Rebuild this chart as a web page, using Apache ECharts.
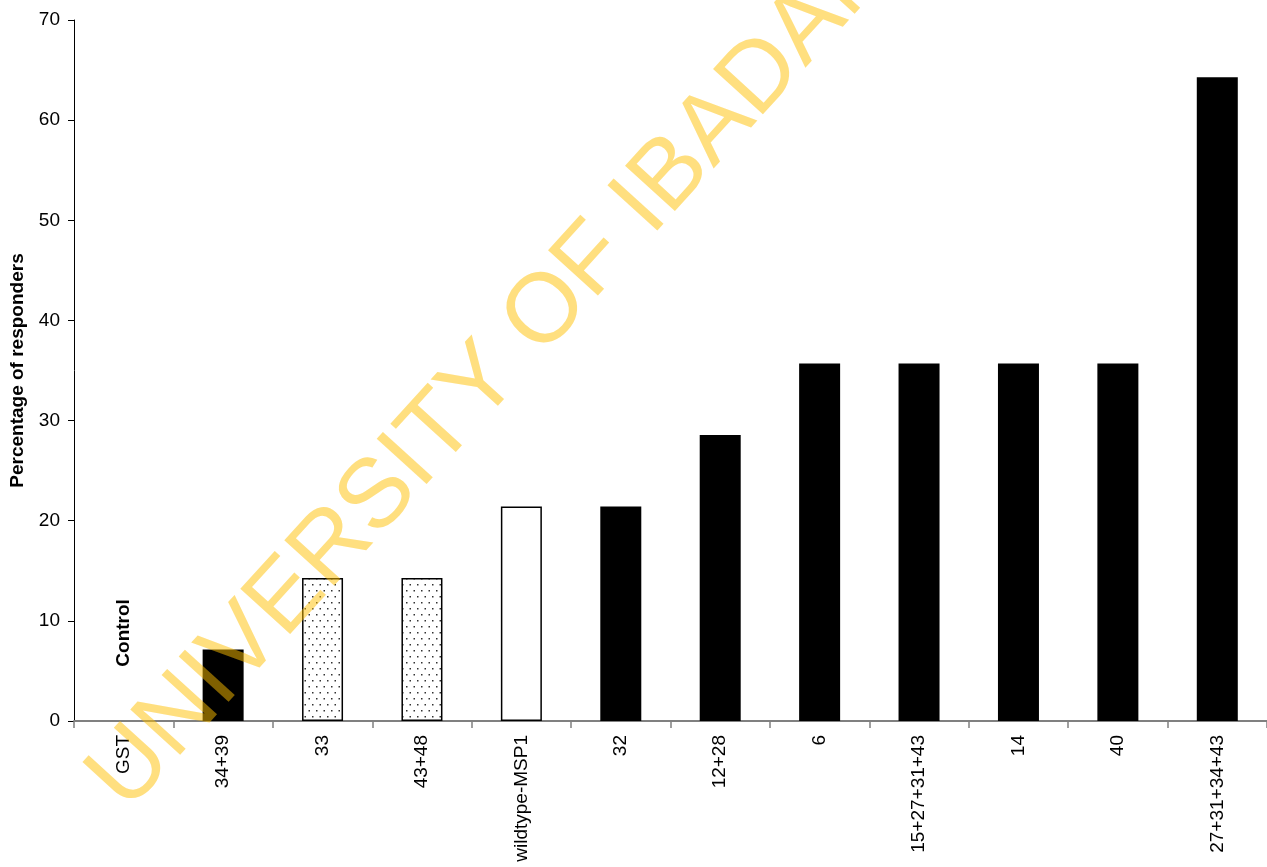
<!DOCTYPE html>
<html>
<head>
<meta charset="utf-8">
<script src="https://cdn.jsdelivr.net/npm/echarts@6/dist/echarts.min.js"></script>
<style>
html,body{margin:0;padding:0;background:#fff;}
#chart{width:1267px;height:867px;}
</style>
</head>
<body>
<div id="chart"></div>
<script>
const categories = ['GST', '34+39', '33', '43+48', 'wildtype-MSP1', '32', '12+28', '6', '15+27+31+43', '14', '40', '27+31+34+43'];
const values = [0, 7.14, 14.29, 14.29, 21.43, 21.43, 28.57, 35.71, 35.71, 35.71, 35.71, 64.29];
const yTicks = [0, 10, 20, 30, 40, 50, 60, 70];
const fillKinds = ['solid', 'solid', 'dots', 'dots', 'open', 'solid', 'solid', 'solid', 'solid', 'solid', 'solid', 'solid'];

const FONT = 'Liberation Sans, Arial, sans-serif';

// dotted pattern
const pc = document.createElement('canvas');
pc.width = 15; pc.height = 12;
const pctx = pc.getContext('2d');
pctx.fillStyle = '#fff';
pctx.fillRect(0, 0, 15, 12);
pctx.fillStyle = '#333';
pctx.fillRect(1, 2, 1.5, 1.5);
pctx.fillRect(8.5, 2, 1.5, 1.5);
pctx.fillRect(4.5, 8, 1.5, 1.5);
pctx.fillRect(12, 8, 1.5, 1.5);

function styleFor(kind, v) {
  if (kind === 'dots') return { color: { image: pc, repeat: 'repeat' }, borderColor: '#000', borderWidth: 1.5 };
  if (kind === 'open') return { color: '#fff', borderColor: '#000', borderWidth: 1.5 };
  return { color: '#000', borderWidth: 0 };
}

const chart = echarts.init(document.getElementById('chart'), null, { renderer: 'canvas' });
chart.setOption({
  animation: false,
  backgroundColor: '#fff',
  grid: { left: 74, right: 0, top: 20, bottom: 146, containLabel: false, outerBoundsMode: 'none' },
  xAxis: {
    type: 'category',
    data: categories,
    name: 'Antigens',
    nameLocation: 'middle',
    nameGap: 127,
    nameTextStyle: { fontFamily: FONT, fontSize: 19, fontWeight: 'bold', color: '#000' },
    axisLine: { lineStyle: { color: '#808080', width: 2 } },
    axisTick: { show: true, length: 7, lineStyle: { color: '#808080', width: 1.5 } },
    axisLabel: { rotate: 90, margin: 14, fontFamily: FONT, fontSize: 19, color: '#000', interval: 0 },
    splitLine: { show: false }
  },
  yAxis: {
    type: 'value',
    min: 0, max: 70, interval: 10,
    name: 'Percentage of responders',
    nameLocation: 'middle',
    nameGap: 47,
    nameTextStyle: { fontFamily: FONT, fontSize: 19, fontWeight: 'bold', color: '#000' },
    axisLine: { show: true, lineStyle: { color: '#000', width: 1 } },
    axisTick: { show: true, length: 6, lineStyle: { color: '#000' } },
    axisLabel: { margin: 14, fontFamily: FONT, fontSize: 19, color: '#000',
      formatter: v => yTicks.includes(v) ? String(v) : '' },
    splitLine: { show: false }
  },
  series: [{
    type: 'bar',
    barWidth: 41,
    data: values.map((v, i) => ({ value: v, itemStyle: styleFor(fillKinds[i], v) })),
    markPoint: {
      symbol: 'rect', symbolSize: 1,
      itemStyle: { color: 'transparent' },
      data: [{ coord: [categories[0], 9.0], value: 'Control' }],
      label: { show: true, formatter: 'Control', rotate: 90, fontFamily: FONT, fontSize: 19, fontWeight: 'bold', color: '#000', position: 'inside', offset: [-2, 0] }
    }
  }],
  graphic: [{
    type: 'text',
    x: 492, y: 372,
    rotation: 47.7 * Math.PI / 180,
    z: 100,
    silent: true,
    style: {
      text: 'UNIVERSITY OF IBADAN',
      font: '98px ' + FONT,
      fill: 'rgba(255,192,0,0.5)',
      textAlign: 'center',
      textVerticalAlign: 'middle'
    }
  }]
});
</script>
</body>
</html>
